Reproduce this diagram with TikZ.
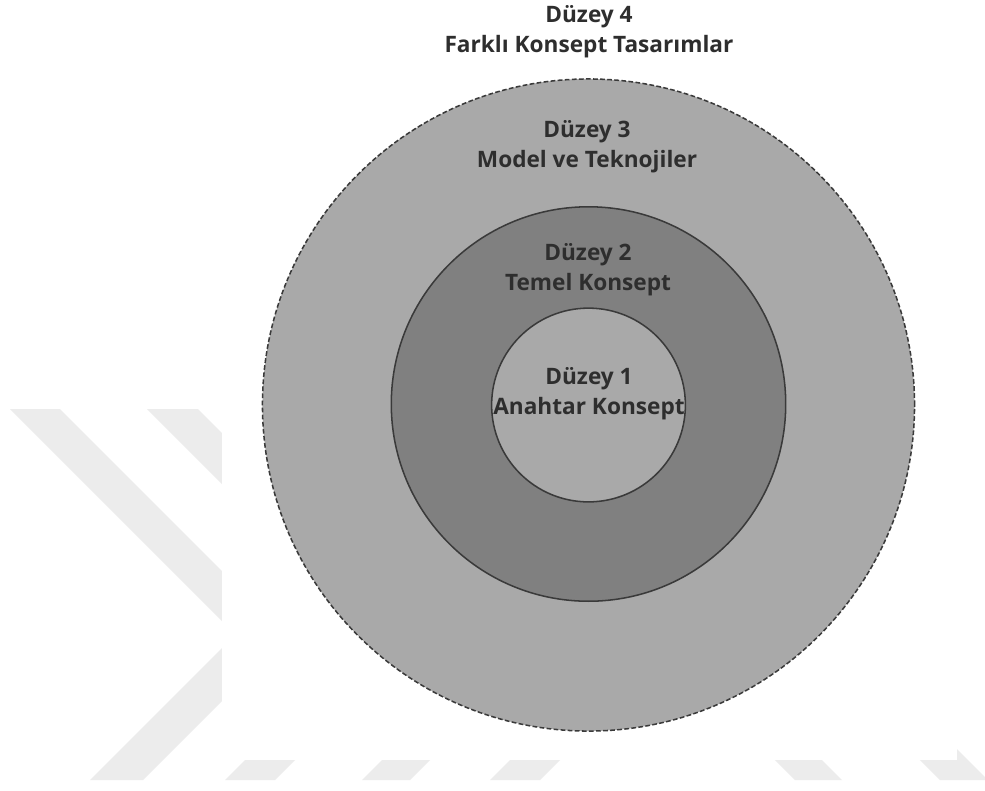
\documentclass[tikz,border=0pt]{standalone}
\usepackage{fontspec}
\setmainfont{Open Sans}
\begin{document}
\definecolor{ringlight}{HTML}{A9A9A9}
\definecolor{ringdark}{HTML}{808080}
\definecolor{edgegray}{HTML}{3A3A3A}
\definecolor{labelgray}{HTML}{2E2E2E}
\definecolor{markgray}{HTML}{ECECEC}
\begin{tikzpicture}[x=0.72pt,y=-0.72pt,
  ring/.style={circle, inner sep=0pt, line width=1.1pt, draw=edgegray},
  levellabel/.style={align=center, text=labelgray, font=\bfseries\fontsize{16.3}{21.8}\selectfont},
  emblem/.style={fill=markgray, draw=none}]
  % canvas
  \useasboundingbox (0,0) rectangle (985,790);
  \fill[white] (0,0) rectangle (985,790);
  % faint background emblem
  \fill[emblem] (10,409) -- (60,409) -- (400,749) -- (350,749) -- cycle;
  \fill[emblem] (147,409) -- (198,409) -- (400,611) -- (349,611) -- cycle;
  \fill[emblem] (90,780) -- (143,780) -- (300,623) -- (247,623) -- cycle;
  \fill[emblem] (225,780) -- (275,780) -- (310,745) -- (260,745) -- cycle;
  \fill[emblem] (362,780) -- (410,780) -- (445,745) -- (397,745) -- cycle;
  \fill[emblem] (490,780) -- (540,780) -- (575,745) -- (525,745) -- cycle;
  \fill[emblem] (795,780) -- (842,780) -- (807,745) -- (760,745) -- cycle;
  \fill[emblem] (940,780) -- (988,780) -- (908,700) -- (860,700) -- cycle;
  \fill[white] (222,0) rectangle (957,760);
  % concentric levels
  \node[ring, fill=ringlight, dashed, dash pattern=on 3.4pt off 1.7pt, minimum size=469.5pt] (lvl3) at (588.5,405) {};
  \node[ring, fill=ringdark, minimum size=284pt] (lvl2) at (588.5,404) {};
  \node[ring, fill=ringlight, minimum size=139.5pt] (lvl1) at (588.5,405) {};
  % labels
  \node[levellabel] (t4) at (589,32) {Düzey 4\\Farklı Konsept Tasarımlar};
  \node[levellabel] (t3) at (587,147) {Düzey 3\\Model ve Teknojiler};
  \node[levellabel] (t2) at (588,270) {Düzey 2\\Temel Konsept};
  \node[levellabel] (t1) at (589,394) {Düzey 1\\Anahtar Konsept};
\end{tikzpicture}
\end{document}
